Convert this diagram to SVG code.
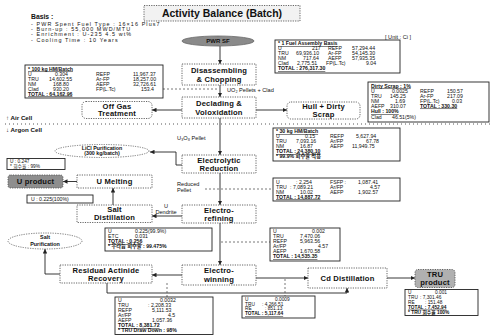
<svg xmlns="http://www.w3.org/2000/svg" width="491" height="335" viewBox="0 0 491 335">
<style>
text{font-family:"Liberation Sans","Noto Sans CJK KR",sans-serif;fill:#111}
.nb{fill:#fff;stroke:#555;stroke-width:0.9;stroke-dasharray:1.2 1.2}
.lbl{font-weight:bold;font-size:7.6px;text-anchor:middle;letter-spacing:0.2px}
.tb{fill:#fff;stroke:#222;stroke-width:0.9}
.tt{font-size:5.2px}
.ts{font-size:4.8px}
.th{font-weight:bold;text-decoration:underline}
.cn{stroke:#222;stroke-width:0.9;fill:none}
.dl{stroke:#555;stroke-width:0.8;stroke-dasharray:2 2;fill:none}
.sm{font-size:5.6px}
.bs{font-size:5.4px;letter-spacing:1.1px}
</style>
<defs>
<marker id="ah" viewBox="0 0 10 10" refX="10" refY="5" markerWidth="5" markerHeight="5" orient="auto"><path d="M0,0 L10,5 L0,10 z" fill="#222"/></marker>
</defs>
<rect width="491" height="335" fill="#fff"/>

<g id="title">
<rect x="144" y="5.5" width="156" height="15.5" fill="#f2f2f2" stroke="#555" stroke-width="0.9" stroke-dasharray="1.2 1.2"/>
<text x="222" y="17" font-size="10.5" font-weight="bold" text-anchor="middle">Activity Balance (Batch)</text>
</g>

<g id="basis">
<text x="31" y="18.5" font-size="6.8" font-weight="bold">Basis :</text>
<text x="31" y="25.6" class="bs">- PWR Spent Fuel Type : 16×16 Plus7</text>
<text x="31" y="31" class="bs">- Burn-up : 55,000 MWD/MTU</text>
<text x="31" y="36.4" class="bs">- Enrichment : U-235 4.5 wt%</text>
<text x="31" y="41.8" class="bs">- Cooling Time : 10 Years</text>
</g>

<text x="385" y="38.5" font-size="5.6">[ Unit : Ci ]</text>

<g id="cell-divider">
<line x1="5" y1="124" x2="490" y2="124" stroke="#444" stroke-width="0.9" stroke-dasharray="1 3"/>
<text x="6" y="120" font-size="6.2" font-weight="bold">↑ Air Cell</text>
<text x="6" y="132" font-size="6.2" font-weight="bold">↓ Argon Cell</text>
</g>

<g id="connectors">
<line class="cn" x1="220" y1="46" x2="220" y2="64" marker-end="url(#ah)"/>
<line class="cn" x1="220" y1="85" x2="220" y2="97" marker-end="url(#ah)"/>
<line class="cn" x1="182" y1="110" x2="152" y2="110" marker-end="url(#ah)"/>
<line class="cn" x1="256" y1="110" x2="287" y2="110" marker-end="url(#ah)"/>
<line class="cn" x1="220" y1="118" x2="220" y2="155" marker-end="url(#ah)"/>
<path class="cn" d="M182,165 H176 V152 H150" marker-end="url(#ah)"/>
<line class="cn" x1="220" y1="173" x2="220" y2="205" marker-end="url(#ah)"/>
<line class="cn" x1="77" y1="181.5" x2="63" y2="181.5" marker-end="url(#ah)"/>
<line class="cn" x1="113" y1="205" x2="113" y2="188" marker-end="url(#ah)"/>
<line class="cn" x1="182" y1="216" x2="152" y2="216" marker-end="url(#ah)"/>
<line class="cn" x1="220" y1="223" x2="220" y2="265" marker-end="url(#ah)"/>
<line class="cn" x1="182" y1="275" x2="152" y2="275" marker-end="url(#ah)"/>
<path class="cn" d="M60,274 H45 V249" marker-end="url(#ah)"/>
<line class="cn" x1="256" y1="278" x2="308" y2="278" marker-end="url(#ah)"/>
<path class="cn" d="M107,283 V293 H347 V288" marker-end="url(#ah)"/>
<line class="cn" x1="387" y1="278" x2="415" y2="278" marker-end="url(#ah)"/>
<line class="dl" x1="163" y1="89" x2="219" y2="89"/>
<line class="dl" x1="205" y1="189" x2="273" y2="189"/>
<line class="dl" x1="221" y1="242" x2="270" y2="242"/>
<line class="dl" x1="167" y1="283" x2="167" y2="297"/>
<line class="dl" x1="285" y1="279" x2="285" y2="296"/>
</g>

<g id="edge-labels">
<text x="227" y="91.5" class="sm">UO₂ Pellets + Clad</text>
<text x="177" y="140" class="sm">U₃O₈ Pellet</text>
<text x="177" y="186" class="sm">Reduced</text>
<text x="177" y="192" class="sm">Pellet</text>
<text x="166" y="207.5" class="sm" text-anchor="middle">U</text>
<text x="166" y="214" class="sm" text-anchor="middle">Dendrite</text>
</g>

<g id="pwr-sf">
<ellipse cx="218" cy="41" rx="36" ry="5" fill="#8a8a8a" stroke="#666" stroke-width="0.8"/>
<text x="218" y="43" font-size="6" font-weight="bold" text-anchor="middle">PWR SF</text>
</g>

<g id="disassembling">
<rect class="nb" x="182" y="64" width="74" height="21"/>
<text class="lbl" x="219" y="72.5">Disassembling</text>
<text class="lbl" x="219" y="81.5">&amp; Chopping</text>
</g>

<g id="declading">
<rect class="nb" x="182" y="97" width="74" height="21"/>
<text class="lbl" x="219" y="105.5">Declading &amp;</text>
<text class="lbl" x="219" y="114.5">Voloxidation</text>
</g>

<g id="off-gas">
<rect class="nb" x="82" y="101.5" width="70" height="17" rx="4"/>
<text class="lbl" x="117" y="108.6" font-size="7">Off Gas</text>
<text class="lbl" x="117" y="116.3" font-size="7">Treatment</text>
</g>

<g id="hull-scrap">
<rect class="nb" x="287" y="102" width="73" height="17" rx="4"/>
<text class="lbl" x="323.5" y="109" font-size="6.8">Hull + Dirty</text>
<text class="lbl" x="323.5" y="116.5" font-size="6.8">Scrap</text>
</g>

<g id="electrolytic">
<rect class="nb" x="182" y="155" width="74" height="18"/>
<text class="lbl" x="219" y="162.6" font-size="7.3">Electrolytic</text>
<text class="lbl" x="219" y="170.6" font-size="7.3">Reduction</text>
</g>

<g id="licl">
<ellipse cx="102" cy="151" rx="47" ry="6.5" fill="#fff" stroke="#555" stroke-width="0.8" stroke-dasharray="1.2 1.2"/>
<text x="102" y="149.6" font-size="5.3" font-weight="bold" text-anchor="middle">LiCl Purification</text>
<text x="102" y="155.4" font-size="5.3" font-weight="bold" text-anchor="middle">(300 kg/batch)</text>
</g>

<g id="licl-box">
<rect class="tb" x="7" y="158.5" width="58" height="11"/>
<text class="ts" x="10" y="163.2">U : 0.247</text>
<text class="ts" x="10" y="168.2">* 회수율 : 99%</text>
</g>

<g id="u-product">
<rect x="8" y="175" width="55" height="13" rx="2.5" fill="#8e8e8e" stroke="#555" stroke-width="0.9" stroke-dasharray="1.2 1.2"/>
<text class="lbl" x="35.5" y="184">U product</text>
</g>

<g id="u-melting">
<rect class="nb" x="77" y="175" width="75" height="13"/>
<text class="lbl" x="114.5" y="184.2">U Melting</text>
</g>

<g id="u-box">
<rect class="tb" x="27" y="195" width="66" height="8"/>
<text class="tt" x="31" y="201">U : 0.225(100%)</text>
</g>

<g id="salt-distillation">
<rect class="nb" x="77" y="205" width="75" height="17.5"/>
<text class="lbl" x="114.5" y="212.3" font-size="7.2">Salt</text>
<text class="lbl" x="114.5" y="220" font-size="7.2">Distillation</text>
</g>

<g id="electrorefining">
<rect class="nb" x="182" y="205" width="74" height="18"/>
<text class="lbl" x="219" y="212.6" font-size="7.3">Electro-</text>
<text class="lbl" x="219" y="220.6" font-size="7.3">refining</text>
</g>

<g id="salt-purification">
<ellipse cx="45" cy="241" rx="37" ry="8" fill="#fff" stroke="#555" stroke-width="0.8" stroke-dasharray="1.2 1.2"/>
<text x="45" y="239.3" font-size="5.4" font-weight="bold" text-anchor="middle">Salt</text>
<text x="45" y="245.5" font-size="5.4" font-weight="bold" text-anchor="middle">Purification</text>
</g>

<g id="residual">
<rect class="nb" x="60" y="265" width="92" height="18"/>
<text class="lbl" x="106" y="272.6" font-size="7.3">Residual Actinide</text>
<text class="lbl" x="106" y="280.6" font-size="7.3">Recovery</text>
</g>

<g id="electrowinning">
<rect class="nb" x="182" y="265" width="74" height="20"/>
<text class="lbl" x="219" y="273.3">Electro-</text>
<text class="lbl" x="219" y="281.8">winning</text>
</g>

<g id="cd-distillation">
<rect class="nb" x="308" y="268" width="79" height="20"/>
<text class="lbl" x="347.5" y="280.5">Cd Distillation</text>
</g>

<g id="tru-product">
<rect x="415" y="269.5" width="40" height="18" rx="3" fill="#b0b0b0" stroke="#555" stroke-width="0.9" stroke-dasharray="1.2 1.2"/>
<text class="lbl" x="435" y="277" font-size="6.8">TRU</text>
<text class="lbl" x="435" y="284.6" font-size="6.8">product</text>
</g>

<g id="table-100kg" class="tt">
<rect class="tb" x="25" y="65" width="138" height="33"/>
<text x="28" y="70.5" class="th">* 100 kg HM/Batch</text>
<text y="75.5"><tspan x="28">U</tspan><tspan x="55">0.304</tspan><tspan x="96">REFP</tspan><tspan x="133">11,967.37</tspan></text>
<text y="80.5"><tspan x="28">TRU</tspan><tspan x="49">14,602.55</tspan><tspan x="96">Ar-FP</tspan><tspan x="133">18,257.00</tspan></text>
<text y="85.5"><tspan x="28">NM</tspan><tspan x="53">168.80</tspan><tspan x="96">AEFP</tspan><tspan x="133">32,726.61</tspan></text>
<text y="90.5"><tspan x="28">Clad</tspan><tspan x="53">930.20</tspan><tspan x="96">FP(L.Tc)</tspan><tspan x="141">153.4</tspan></text>
<text x="28" y="95.5" class="th">TOTAL : 64,162.96</text>
</g>

<g id="table-assembly" class="tt">
<rect class="tb" x="275" y="40" width="125" height="33"/>
<text x="278" y="45" class="th">* 1 Fuel Assembly Basis</text>
<text y="50"><tspan x="278">U</tspan><tspan x="312">217</tspan><tspan x="328">REFP</tspan><tspan x="352">57,294.44</tspan></text>
<text y="55"><tspan x="278">TRU</tspan><tspan x="296">69,936.10</tspan><tspan x="328">Ar-FP</tspan><tspan x="352">54,145.30</tspan></text>
<text y="60"><tspan x="278">NM</tspan><tspan x="303">717.64</tspan><tspan x="328">AEFP</tspan><tspan x="352">57,935.35</tspan></text>
<text y="65"><tspan x="278">Clad</tspan><tspan x="297">2,775.51</tspan><tspan x="326">FP(L.Tc)</tspan><tspan x="366">9.04</tspan></text>
<text x="278" y="70" class="th">TOTAL : 276,317.30</text>
</g>

<g id="table-dirty-scrap" class="tt">
<rect class="tb" x="368" y="82" width="121" height="40"/>
<text x="371" y="87.5" class="th">Dirty Scrap : 1%</text>
<text y="92.5"><tspan x="371">U</tspan><tspan x="392">0.0025</tspan><tspan x="420">REFP</tspan><tspan x="447">150.57</tspan></text>
<text y="97.5"><tspan x="371">TRU</tspan><tspan x="390">145.25</tspan><tspan x="420">Ar-FP</tspan><tspan x="447">217.09</tspan></text>
<text y="102.5"><tspan x="371">NM</tspan><tspan x="395">1.69</tspan><tspan x="420">FP(L.Tc)</tspan><tspan x="452">0.03</tspan></text>
<text y="107.5"><tspan x="371">AEFP</tspan><tspan x="390">310.07</tspan></text>
<text x="420" y="107.5" class="th">TOTAL : 330.30</text>
<text x="371" y="113.2" class="th">Hull : 100%</text>
<text y="118.6"><tspan x="371">Clad</tspan><tspan x="392">46.51(5%)</tspan></text>
</g>

<g id="table-30kg" class="tt">
<rect class="tb" x="273" y="128" width="127" height="33"/>
<text x="276" y="133" class="th">* 30 kg HM/Batch</text>
<text y="138"><tspan x="276">U</tspan><tspan x="305">0.15</tspan><tspan x="330">REFP</tspan><tspan x="356">5,627.94</tspan></text>
<text y="143"><tspan x="276">TRU</tspan><tspan x="296">7,093.16</tspan><tspan x="330">Ar/FP</tspan><tspan x="366">67.78</tspan></text>
<text y="148"><tspan x="276">NM</tspan><tspan x="300">16.87</tspan><tspan x="330">AEFP</tspan><tspan x="352">11,949.75</tspan></text>
<text x="276" y="153" class="th">TOTAL : 24,380.10</text>
<text x="276" y="158.4" font-weight="bold">* 99.9% 회수율 적용</text>
</g>

<g id="table-reduced" class="tt">
<rect class="tb" x="273" y="178" width="127" height="23"/>
<text y="183.5"><tspan x="276">U</tspan><tspan x="296">: 2,254</tspan><tspan x="330">FSFP :</tspan><tspan x="358">1,087.41</tspan></text>
<text y="188.5"><tspan x="276">TRU</tspan><tspan x="290">: 7,089.21</tspan><tspan x="330">Ar/FP</tspan><tspan x="370">4.57</tspan></text>
<text y="193.5"><tspan x="276">NM</tspan><tspan x="300">10.02</tspan><tspan x="330">AEFP</tspan><tspan x="358">1,902.57</tspan></text>
<text x="276" y="198.5" class="th">TOTAL : 14,887.72</text>
</g>

<g id="table-refining" class="tt">
<rect class="tb" x="270" y="228" width="70" height="33"/>
<text y="233"><tspan x="273">U</tspan><tspan x="312">0.002</tspan></text>
<text y="238"><tspan x="273">TRU</tspan><tspan x="300">7,470.06</tspan></text>
<text y="243"><tspan x="273">REFP</tspan><tspan x="300">5,963.56</tspan></text>
<text y="248"><tspan x="273">Ar/FP</tspan><tspan x="318">4.57</tspan></text>
<text y="253"><tspan x="273">AEFP</tspan><tspan x="300">1,670.58</tspan></text>
<text x="273" y="258" class="th">TOTAL : 14,535.35</text>
</g>

<g id="table-salt" class="tt">
<rect class="tb" x="105" y="228" width="107" height="23"/>
<text y="233"><tspan x="108">U</tspan><tspan x="135">0.225(99.9%)</tspan></text>
<text y="238"><tspan x="108">ETC</tspan><tspan x="135">0.031</tspan></text>
<text x="108" y="243" class="th">TOTAL : 0.256</text>
<text x="108" y="248.4" font-weight="bold">* 우라늄 회수율 : 99.475%</text>
</g>

<g id="table-residual" class="tt">
<rect class="tb" x="115" y="297" width="98" height="37.5"/>
<text y="302"><tspan x="118">U</tspan><tspan x="160">0.0032</tspan></text>
<text y="307"><tspan x="118">TRU</tspan><tspan x="148">: 2,208.33</tspan></text>
<text y="312"><tspan x="118">REFP</tspan><tspan x="152">5,111.53</tspan></text>
<text y="317"><tspan x="118">Ar/FP</tspan><tspan x="168">4.5</tspan></text>
<text y="322"><tspan x="118">AEFP</tspan><tspan x="152">1,057.36</tspan></text>
<text x="118" y="327" class="th">TOTAL : 8,381.72</text>
<text x="118" y="332.2" font-weight="bold">* TRU Draw Down : 98%</text>
</g>

<g id="table-cd" class="ts">
<rect class="tb" x="242" y="296" width="73" height="22"/>
<text y="300.8"><tspan x="245">U</tspan><tspan x="275">0.0009</tspan></text>
<text y="305.6"><tspan x="245">TRU</tspan><tspan x="262">: 4,266.51</tspan></text>
<text y="310.4"><tspan x="245">RE</tspan><tspan x="265">: 851.13</tspan></text>
<text x="245" y="315.4" class="th">TOTAL : 5,117.64</text>
</g>

<g id="table-tru" class="ts">
<rect class="tb" x="405" y="289.5" width="73" height="26"/>
<text y="294.3"><tspan x="408">U</tspan><tspan x="435">0.001</tspan></text>
<text y="299.1"><tspan x="408">TRU</tspan><tspan x="420">: 7,301.46</tspan></text>
<text y="303.9"><tspan x="408">RE</tspan><tspan x="425">: 151.48</tspan></text>
<text x="408" y="308.7" class="th">TOTAL : 7,452.94</text>
<text x="408" y="313.6" font-weight="bold">* TRU 회수율 100%</text>
</g>
</svg>
